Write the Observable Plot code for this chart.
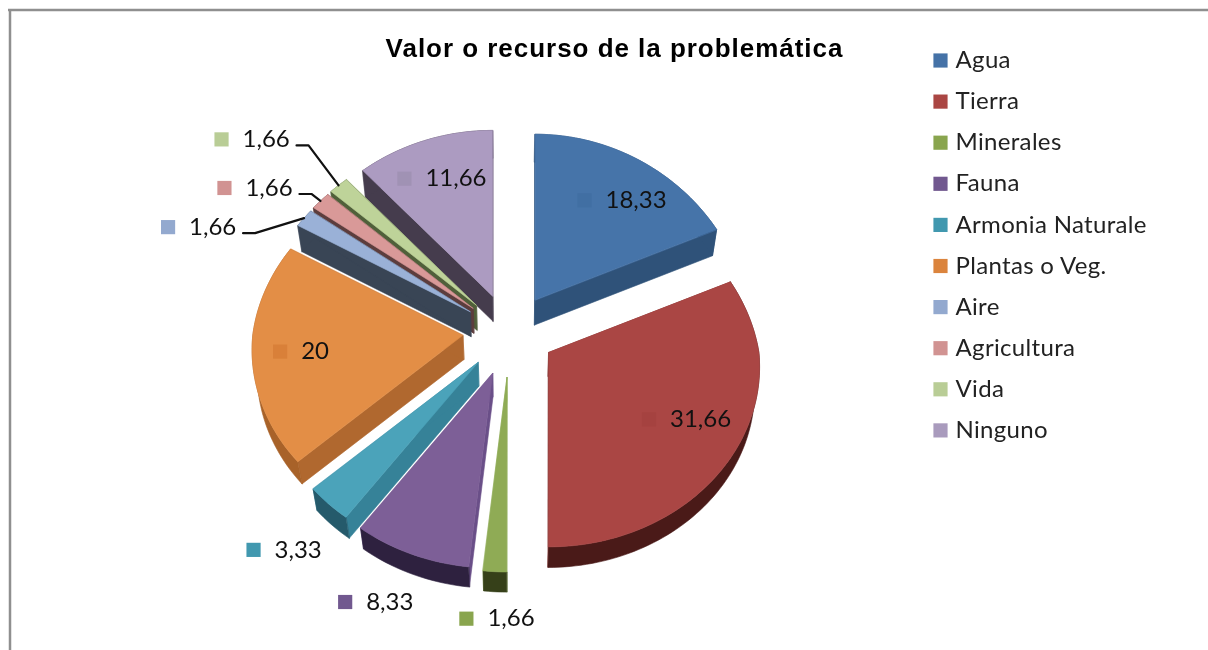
<!DOCTYPE html>
<html>
<head>
<meta charset="utf-8">
<script src="https://cdn.jsdelivr.net/npm/d3@7"></script>
<script src="https://cdn.jsdelivr.net/npm/@observablehq/plot@0.6"></script>
<style>
html,body{margin:0;padding:0;background:#fff;overflow:hidden}
svg{display:block;filter:blur(.4px)}
</style>
</head>
<body>
<div id="chart"></div>
<script>
// ---- data ----
const chartTitle = "Valor o recurso de la problemática";
const categories = ["Agua","Tierra","Minerales","Fauna","Armonia Naturale","Plantas o Veg.","Aire","Agricultura","Vida","Ninguno"];
const values = [18.33,31.66,1.66,8.33,3.33,20,1.66,1.66,1.66,11.66];
const valueLabels = ["18,33","31,66","1,66","8,33","3,33","20","1,66","1,66","1,66","11,66"];

// ---- colours ----
const keyColors   = ["#4572A7","#AA4643","#89A54E","#71588F","#4198AF","#DB843D","#93A9CF","#D19392","#B9CD96","#A99BBD"];
const topColors   = ["#4674A9","#AA4644","#8FAB55","#7D5F97","#4BA3BA","#E38E46","#9AB1D7","#D99998","#BED399","#AC9BC1"];
const innerKeys   = ["#416FA3","#A54240","#89A54E","#71588F","#4198AF","#D98039","#93A9CF","#D19392","#B9CD96","#A092B4"];
const radialWalls = ["#2F5279","#7D302E","#9CB86A","#6A4F88","#368298","#B0682F","#394555","#5C3D3D","#50603A","#453C4D"];
const outerWalls  = ["#2F5279","#4A1A18","#364019","#2E213F","#255A6B","#A86229","#394555","#5C3D3D","#50603A","#453C4D"];
const paintOrder  = [9,8,7,6,0,5,1,4,3,2];

// ---- label placement, relative to each slice's outer rim midpoint ----
const labelShiftX = [-32,-63,-7.5,-45,-54,49,-115,-75,-96,1];
const labelShiftY = [41,-35,47,48,46,-2.5,9,-13,-46,38];
const hasLeader   = [false,false,false,false,false,false,true,true,true,false];
const insideKey   = [true,true,false,false,false,true,false,false,false,true];

// ---- 3D pie model ----
const cx = 509, cy = 333, R = 210, Ry = 179;
const total = d3.sum(values);
const polar = a => ({u: Math.sin(a), v: Math.cos(a)});
const project = (apex, a) => {
  const {u, v} = polar(a);
  const px = v > 0 ? (u < 0 ? 0.11 : 0.14) : 0.08;
  return {
    x: apex.x + R * u / (1 + px * v),
    y: apex.y - Ry * v / (1 + 0.08 * v)
  };
};
const below = p => ({
  x: cx + (p.x - cx) * 0.98,
  y: p.y + 25 - (p.y - 300) * 0.018
});
let cum = 0;
const slices = values.map((val, i) => {
  const a0 = cum / total * 2 * Math.PI;
  cum += val;
  const a1 = cum / total * 2 * Math.PI;
  const mid = (a0 + a1) / 2;
  const {u, v} = polar(mid);
  const apex = {x: cx + 47 * u, y: v > 0 ? cy - 40 * v : cy + 44 * Math.pow(-v, 1.4)};
  const n = Math.max(4, Math.ceil((a1 - a0) * 40));
  const arc = d3.range(n + 1).map(k => project(apex, a0 + (a1 - a0) * k / n));
  return {i, apex, arc, rim: project(apex, mid)};
});

// ---- marks ----
const face = (pts, fill) => Plot.line(pts, {x: "x", y: "y", fill, stroke: fill, strokeWidth: 0.6, curve: "linear-closed"});
const faceMarks = paintOrder.flatMap(i => {
  const {apex, arc} = slices[i];
  const first = arc[0], last = arc[arc.length - 1];
  return [
    face([apex, first, below(first), below(apex)], radialWalls[i]),
    face([apex, last, below(last), below(apex)], radialWalls[i]),
    face([...arc, ...arc.map(below).reverse()], outerWalls[i]),
    face([apex, ...arc], topColors[i])
  ];
});

const labels = slices.map(s => ({
  i: s.i,
  text: valueLabels[s.i],
  x: s.rim.x + labelShiftX[s.i],
  y: s.rim.y + labelShiftY[s.i],
  keyX: s.rim.x + labelShiftX[s.i] - 21,
  key: insideKey[s.i] ? innerKeys[s.i] : keyColors[s.i],
  rim: s.rim
}));
const leaders = labels.filter(l => hasLeader[l.i]).map(l => [
  {x: l.x + 54, y: l.y + 6},
  {x: l.x + 66, y: l.y + 6},
  l.rim
]);
const legendRows = categories.map((name, i) => ({name, color: keyColors[i], y: 60 + 41.1 * i}));
const font = "Lato";

const chart = Plot.plot({
  width: 1208, height: 650,
  margin: 0,
  x: {domain: [0, 1208], range: [0, 1208], axis: null},
  y: {domain: [0, 650], range: [0, 650], axis: null},
  style: {background: "#fff"},
  marks: [
    Plot.ruleX([9.5], {y1: 9, y2: 650, stroke: "#8f8f8f", strokeWidth: 2.5}),
    Plot.ruleY([9.5], {x1: 8, x2: 1208, stroke: "#8f8f8f", strokeWidth: 2.5}),
    ...faceMarks,
    ...leaders.map(pts => Plot.line(pts, {x: "x", y: "y", stroke: "#111", strokeWidth: 2.2})),
    Plot.dot(labels, {x: "keyX", y: "y", symbol: "square", r: 8, fill: "key", stroke: "none"}),
    Plot.text(labels, {x: "x", y: "y", text: "text", textAnchor: "start", fontFamily: font, fontSize: 24, fill: "#111"}),
    Plot.text([chartTitle], {x: () => 614, y: () => 48, text: d => d, fontFamily: "Liberation Sans", fontWeight: "bold", fontSize: 26, fill: "#000"}),
    Plot.dot(legendRows, {x: () => 940, y: "y", symbol: "square", r: 8, fill: "color", stroke: "none"}),
    Plot.text(legendRows, {x: () => 955, y: "y", text: "name", textAnchor: "start", fontFamily: font, fontSize: 24, fill: "#222"})
  ]
});
d3.select(chart).selectAll("text").each(function () {
  const t = this.textContent;
  if (t === chartTitle) this.style.letterSpacing = "0.97px";
  else if (categories.includes(t)) this.style.letterSpacing = "0.33px";
});
document.getElementById("chart").appendChild(chart);
</script>
</body>
</html>
